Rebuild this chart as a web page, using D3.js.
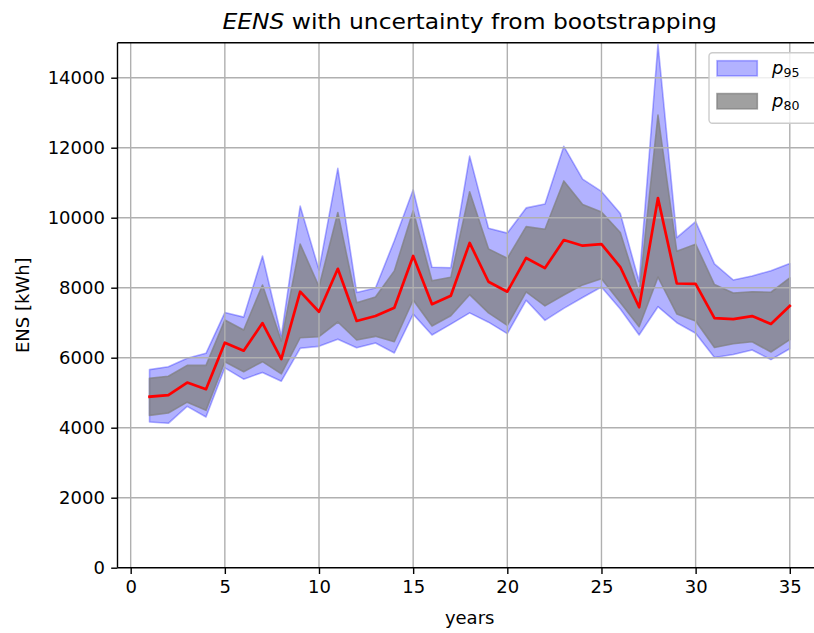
<!DOCTYPE html>
<html>
<head>
<meta charset="utf-8">
<script src="https://cdn.jsdelivr.net/npm/d3@7"></script>
<style>
  html, body { margin: 0; padding: 0; background: #fff; overflow: hidden; }
  svg { display: block; font-family: "DejaVu Sans", sans-serif; }
</style>
</head>
<body>
<svg id="chart" width="814" height="633"></svg>
<script>
// Years of the simulation
const years = d3.range(1, 36);

// Expected energy not supplied (mean of bootstrap samples), kWh
const eens = [4886, 4930, 5290, 5100, 6430, 6200, 6990, 5960, 7886, 7314,
              8540, 7049, 7190, 7429, 8906, 7530, 7770, 9280, 8171, 7886,
              8850, 8560, 9363, 9200, 9245, 8590, 7440, 10560, 8120, 8110,
              7130, 7100, 7190, 6963, 7477];

// 95 % band
const p95Upper = [5660, 5743, 5983, 6126, 7290, 7160, 8906, 6620, 10334, 8506,
                  11411, 7865, 7990, 9340, 10800, 8583, 8571, 11760, 9697, 9560,
                  10280, 10390, 12040, 11100, 10750, 10120, 8170, 14950, 9430, 9886,
                  8680, 8220, 8334, 8486, 8690];
const p95Lower = [4162, 4126, 4610, 4305, 5711, 5387, 5580, 5330, 6269, 6324,
                  6530, 6283, 6420, 6135, 7245, 6649, 6958, 7280, 7015, 6687,
                  7640, 7067, 7410, 7720, 8020, 7390, 6649, 7457, 7000, 6697,
                  6006, 6090, 6220, 5944, 6255];

// 80 % band
const p80Upper = [5410, 5470, 5780, 5780, 7077, 6791, 8077, 6480, 9249, 8029,
                  10150, 7571, 7735, 8480, 10200, 8200, 8297, 10743, 9110, 8840,
                  9745, 9669, 11050, 10377, 10160, 9577, 7860, 12934, 9040, 9245,
                  8090, 7850, 7886, 7870, 8283];
const p80Lower = [4353, 4420, 4730, 4496, 5886, 5600, 5886, 5540, 6570, 6600,
                  7020, 6506, 6610, 6457, 7649, 6906, 7200, 7800, 7280, 6924,
                  7880, 7480, 7790, 8080, 8255, 7580, 6886, 8300, 7250, 7050,
                  6290, 6400, 6457, 6162, 6516];

const xTicks = [0, 5, 10, 15, 20, 25, 30, 35];
const yTicks = [0, 2000, 4000, 6000, 8000, 10000, 12000, 14000];

const svg = d3.select("#chart");
const area = { left: 117.5, right: 821.8, top: 42.7, bottom: 567.7 };

const x = d3.scaleLinear().domain([-0.7, 36.7]).range([area.left, area.right]);
const y = d3.scaleLinear().domain([0, 15000]).range([area.bottom, area.top]);

const fontSize = 18;

// clip for plot contents
svg.append("defs").append("clipPath").attr("id", "plotclip")
  .append("rect")
  .attr("x", area.left).attr("y", area.top)
  .attr("width", area.right - area.left).attr("height", area.bottom - area.top);

const plot = svg.append("g").attr("clip-path", "url(#plotclip)");

const bandArea = (lo, hi) => d3.area()
  .x((d, i) => x(years[i]))
  .y0((d, i) => y(lo[i]))
  .y1((d, i) => y(hi[i]));

plot.append("path")
  .datum(years)
  .attr("d", bandArea(p95Lower, p95Upper))
  .attr("fill", "rgb(0,0,255)")
  .attr("fill-opacity", 0.3)
  .attr("stroke", "rgba(0,0,255,0.3)")
  .attr("stroke-width", 1.6)
  .attr("stroke-linejoin", "round");

plot.append("path")
  .datum(years)
  .attr("d", bandArea(p80Lower, p80Upper))
  .attr("fill", "rgb(128,128,128)")
  .attr("fill-opacity", 0.75)
  .attr("stroke", "rgba(128,128,128,0.75)")
  .attr("stroke-width", 1.6)
  .attr("stroke-linejoin", "round");

// grid lines drawn above the bands, below the mean line
const gridG = svg.append("g").attr("clip-path", "url(#plotclip)");
gridG.selectAll("line.gx").data(xTicks).join("line")
  .attr("x1", d => x(d)).attr("x2", d => x(d))
  .attr("y1", area.top).attr("y2", area.bottom)
  .attr("stroke", "#b0b0b0").attr("stroke-width", 1.4);
gridG.selectAll("line.gy").data(yTicks).join("line")
  .attr("x1", area.left).attr("x2", area.right)
  .attr("y1", d => y(d)).attr("y2", d => y(d))
  .attr("stroke", "#b0b0b0").attr("stroke-width", 1.4);

// mean line
const meanLine = d3.line().x((d, i) => x(years[i])).y((d, i) => y(eens[i]));
svg.append("g").attr("clip-path", "url(#plotclip)")
  .append("path")
  .datum(years)
  .attr("d", meanLine)
  .attr("fill", "none")
  .attr("stroke", "red")
  .attr("stroke-width", 2.7)
  .attr("stroke-linejoin", "round")
  .attr("stroke-linecap", "square");

// axes
const xAxis = d3.axisBottom(x).tickValues(xTicks).tickSize(6.3).tickPadding(6.3)
  .tickFormat(d3.format("d"));
const yAxis = d3.axisLeft(y).tickValues(yTicks).tickSize(6.3).tickPadding(6.3)
  .tickFormat(d3.format("d"));

const gx = svg.append("g").attr("transform", `translate(0,${area.bottom})`).call(xAxis);
const gy = svg.append("g").attr("transform", `translate(${area.left},0)`).call(yAxis);
[gx, gy].forEach(g => {
  g.select(".domain").remove();
  g.selectAll(".tick line").attr("stroke", "#000").attr("stroke-width", 1.4);
  g.selectAll(".tick text").attr("fill", "#000")
    .attr("font-family", "DejaVu Sans").attr("font-size", fontSize);
});

// spines
const spines = svg.append("g").attr("stroke", "#000").attr("stroke-width", 1.4).attr("fill", "none");
spines.append("line").attr("x1", area.left).attr("x2", area.left).attr("y1", area.top).attr("y2", area.bottom);
spines.append("line").attr("x1", area.left).attr("x2", area.right).attr("y1", area.bottom).attr("y2", area.bottom);
spines.append("line").attr("x1", area.left).attr("x2", area.right).attr("y1", area.top).attr("y2", area.top);
spines.append("line").attr("x1", area.right).attr("x2", area.right).attr("y1", area.top).attr("y2", area.bottom);

// axis labels
svg.append("text")
  .attr("x", (area.left + area.right) / 2).attr("y", 624)
  .attr("text-anchor", "middle").attr("font-size", fontSize).attr("fill", "#000")
  .text("years");

svg.append("text")
  .attr("transform", `translate(29,${(area.top + area.bottom) / 2}) rotate(-90)`)
  .attr("text-anchor", "middle").attr("font-size", fontSize).attr("fill", "#000")
  .text("ENS [kWh]");

// title
const titleX = (area.left + area.right) / 2;
const title = svg.append("text")
  .attr("transform", `translate(${titleX},29) scale(1.065,1)`)
  .attr("text-anchor", "middle").attr("font-size", 22).attr("fill", "#000");
title.append("tspan").attr("font-style", "italic").text("EENS");
title.append("tspan").text(" with uncertainty from bootstrapping");

// legend
const leg = svg.append("g");
leg.append("rect")
  .attr("x", 709).attr("y", 52.7).attr("width", 108).attr("height", 70.6)
  .attr("rx", 3.5).attr("fill", "#fff").attr("fill-opacity", 0.8)
  .attr("stroke", "#cccccc").attr("stroke-width", 1.4);

const legendItems = [
  { sub: "95", fill: "rgb(0,0,255)", op: 0.3, stroke: "rgba(0,0,255,0.3)", yc: 68.3 },
  { sub: "80", fill: "rgb(128,128,128)", op: 0.75, stroke: "rgba(128,128,128,0.75)", yc: 101.2 }
];
legendItems.forEach(it => {
  leg.append("rect")
    .attr("x", 717).attr("y", it.yc - 7.6).attr("width", 40.3).attr("height", 15.2)
    .attr("fill", it.fill).attr("fill-opacity", it.op)
    .attr("stroke", it.stroke).attr("stroke-width", 1.6);
  const t = leg.append("text")
    .attr("x", 772).attr("y", it.yc + 5.5)
    .attr("font-size", fontSize).attr("fill", "#000");
  t.append("tspan").attr("font-style", "italic").text("p");
  t.append("tspan").attr("font-size", 12.6).attr("dy", 3.5).text(it.sub);
});
</script>
</body>
</html>
